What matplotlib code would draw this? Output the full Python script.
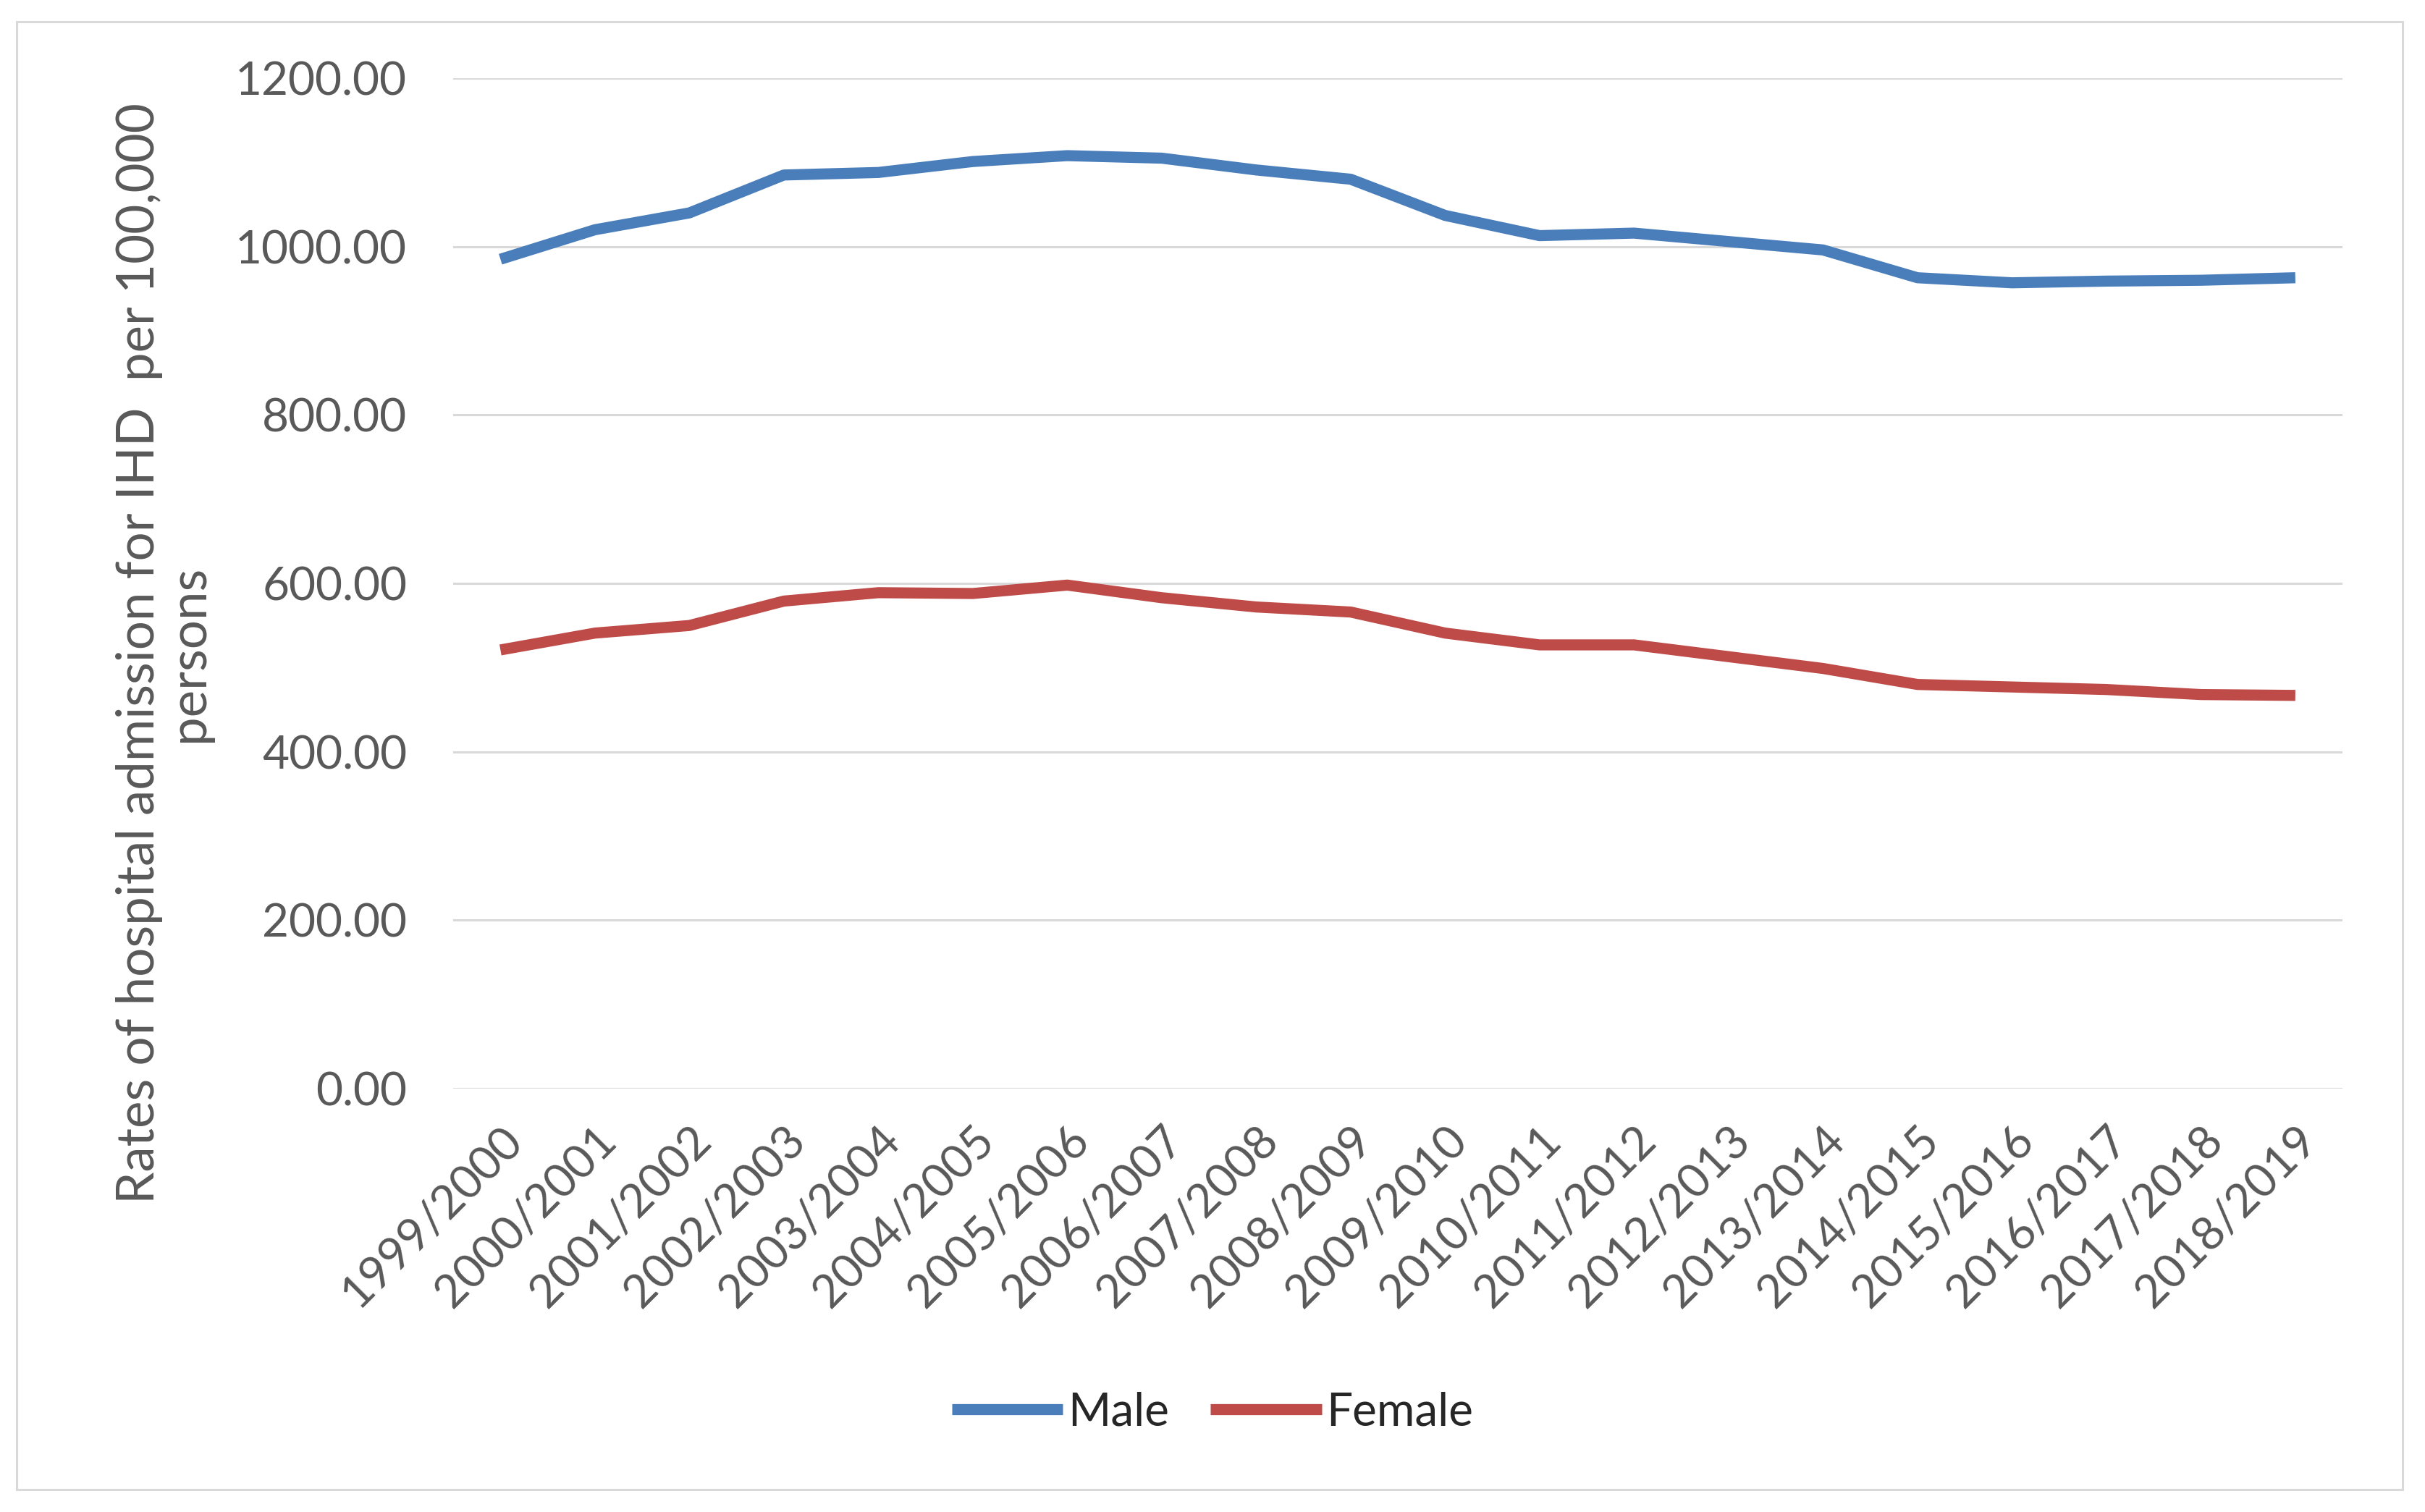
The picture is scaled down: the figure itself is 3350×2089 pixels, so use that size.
import matplotlib
matplotlib.use("Agg")
import matplotlib.pyplot as plt
from matplotlib.patches import Rectangle

# financial years on the x axis
years = ["1999/2000", "2000/2001", "2001/2002", "2002/2003", "2003/2004",
         "2004/2005", "2005/2006", "2006/2007", "2007/2008", "2008/2009",
         "2009/2010", "2010/2011", "2011/2012", "2012/2013", "2013/2014",
         "2014/2015", "2015/2016", "2016/2017", "2017/2018", "2018/2019"]

# admission rates per 100,000
male = [985, 1020, 1040, 1085, 1088, 1101, 1108, 1105, 1091, 1080,
        1037, 1013, 1016, 1006, 996, 963, 957, 959, 960, 963]
female = [521, 541, 550, 579, 589, 588, 598, 583, 572, 566,
          541, 527, 527, 513, 499, 480, 477, 474, 468, 467]

y_ticks = [0, 200, 400, 600, 800, 1000, 1200]

plt.rcParams['font.family'] = ['Lato', 'DejaVu Sans']

fig = plt.figure(figsize=(33.5, 20.89), dpi=100)
ax = fig.add_axes([0.1869, 0.280, 0.7791, 0.6683])

x = range(len(years))
ax.plot(x, male, color="#4A7EBB", lw=11, solid_capstyle="butt", label="Male", zorder=3)
ax.plot(x, female, color="#BE4B48", lw=11, solid_capstyle="butt", label="Female", zorder=3)

ax.set_xlim(-0.5, len(years) - 0.5)
ax.set_ylim(0, 1200)
ax.set_yticks(y_ticks)
ax.set_yticklabels([f"{v:.2f}" for v in y_ticks])
ax.set_xticks(list(x))
ax.set_xticklabels(years, rotation=45, ha="right", va="top", rotation_mode="anchor")

ax.grid(axis="y", color="#D9D9D9", lw=2.2)
ax.set_axisbelow(True)
for s in ax.spines.values():
    s.set_visible(False)
ax.tick_params(axis="both", length=0, labelsize=46, labelcolor="#595959")
ax.tick_params(axis="y", pad=46)
ax.tick_params(axis="x", pad=30)

fig.text(0.0675, 0.568, "Rates of hospital admission for IHD  per 100,000\npersons",
         rotation=90, ha="center", va="center", multialignment="center",
         fontsize=51, color="#595959", linespacing=1.06)

fig.legend(loc="center", bbox_to_anchor=(0.5, 0.066), ncol=2, frameon=False,
           fontsize=46, handlelength=2.4, handletextpad=0.1, columnspacing=0.9,
           labelcolor="#262626")

fig.patches.append(Rectangle((0.0069, 0.0148), 0.9838, 0.9708, transform=fig.transFigure,
                             fill=False, edgecolor="#D9D9D9", lw=2.2))

fig.savefig("out.png", dpi=100, facecolor="white")
